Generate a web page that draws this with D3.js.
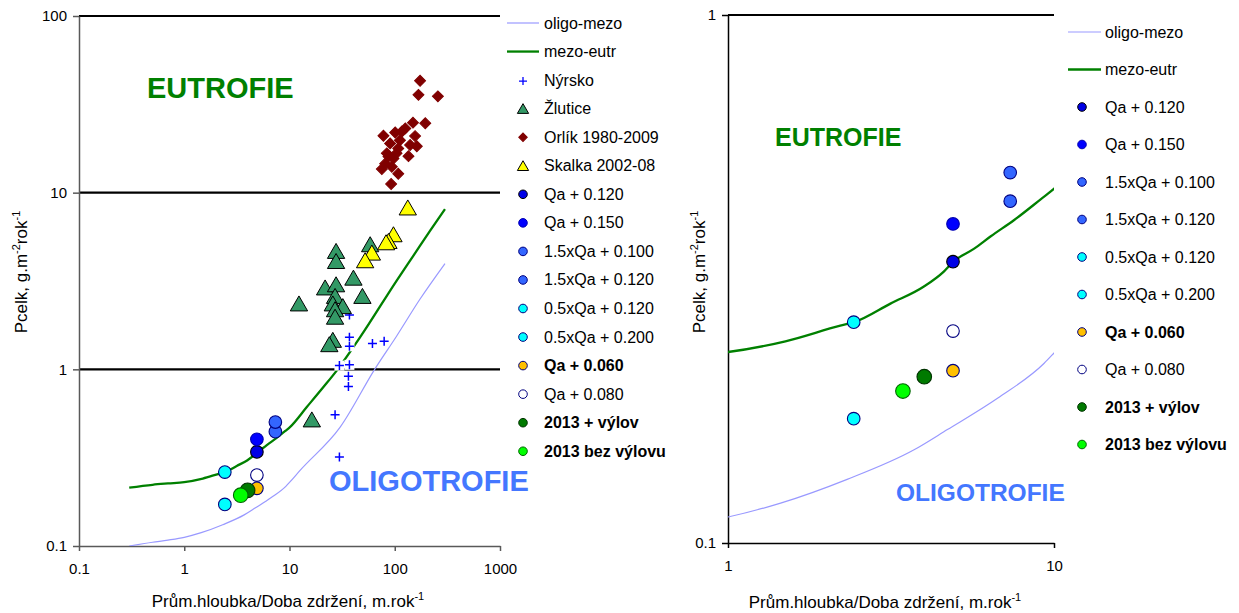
<!DOCTYPE html>
<html>
<head>
<meta charset="utf-8">
<script src="https://cdn.jsdelivr.net/npm/d3@7"></script>
<style>
  body { margin: 0; background: #fff; }
  svg { display: block; }
  text { font-family: "Liberation Sans", Arial, sans-serif; }
</style>
</head>
<body>
<svg id="chart" width="1239" height="613"></svg>
<script>
// Trophic boundary curves: areal P load (g/m2/yr) vs hydraulic load qs (m/yr)
const oligoMezoX = [0.3, 0.5, 0.7, 1, 1.45, 2.32, 3.71, 4.71, 6.71, 9.33, 10, 12.6, 30.3, 65.1, 104.7, 174, 300];
const oligoMezoY = [0.100, 0.105, 0.108, 0.112, 0.119, 0.132, 0.150, 0.164, 0.188, 0.219, 0.229, 0.268, 0.471, 1.01, 1.55, 2.5, 3.97];
const mezoEutrX = [0.3, 0.5, 0.7, 1, 1.5, 2.21, 2.44, 3.15, 3.99, 4.6, 4.91, 5.69, 6.4, 7.55, 9.12, 10.1, 14.6, 21, 28.2, 46.9, 104.7, 150, 217, 300];
const mezoEutrY = [0.214, 0.222, 0.226, 0.230, 0.241, 0.258, 0.262, 0.284, 0.306, 0.327, 0.341, 0.361, 0.381, 0.409, 0.448, 0.471, 0.612, 0.794, 0.987, 1.52, 3.19, 4.39, 6.1, 8.07];

// Reservoir observations
const nyrskoX = [37.1, 37.1, 37.1, 61.4, 79.3, 37.1, 29.8, 36.3, 36.3, 27.1, 29.8];
const nyrskoY = [2.03, 1.52, 1.35, 1.40, 1.44, 1.06, 1.05, 0.913, 0.80, 0.554, 0.319];
const zluticeX = [58.4, 27.7, 27.7, 40.5, 21.8, 27.7, 49.3, 27.1, 12.3, 25.8, 32.1, 27.1, 27.1, 25.8, 23.9, 16.3];
const zluticeY = [5.04, 4.62, 4.05, 3.26, 2.87, 2.99, 2.57, 2.57, 2.33, 2.33, 2.25, 2.16, 1.96, 1.45, 1.37, 0.514];
const orlikX = [174, 168, 257, 149, 195, 78.1, 101, 126, 156, 112, 90.4, 140, 162, 108, 84.1, 135, 97.2, 81.1, 75.4, 108, 93.8, 92.4, 117, 104, 87.2];
const orlikY = [43.0, 35.8, 35.1, 24.9, 24.7, 21.0, 21.9, 23.1, 20.9, 19.8, 19.0, 18.6, 18.3, 17.8, 16.7, 16.1, 15.6, 14.6, 13.6, 12.8, 14.0, 11.2, 22.2, 16.7, 16.0];
const skalkaX = [133, 97.2, 87.1, 82.7, 60.6, 52.3];
const skalkaY = [8.14, 5.74, 5.26, 5.17, 4.52, 4.09];

// Model scenarios (one point each)
const scenarioNames = ["Qa + 0.120", "Qa + 0.150", "1.5xQa + 0.100", "1.5xQa + 0.120", "0.5xQa + 0.120", "0.5xQa + 0.200", "Qa + 0.060", "Qa + 0.080", "2013 + výlov", "2013 bez výlovu"];
const scenarioX = [4.90, 4.90, 7.34, 7.34, 2.43, 2.43, 4.90, 4.90, 4.00, 3.44];
const scenarioY = [0.341, 0.402, 0.444, 0.503, 0.172, 0.262, 0.212, 0.252, 0.2065, 0.194];
const scenarioFill = ["#0000e6", "#0000ff", "#3366ff", "#3366ff", "#00ffff", "#00ffff", "#ffc000", "#ffffff", "#007a00", "#00ff00"];
const scenarioStroke = ["#000000", "#0000b0", "#000080", "#000080", "#000080", "#000080", "#000080", "#000080", "#003300", "#006600"];
const scenarioBold = [false, false, false, false, false, false, true, false, true, true];
const scenarioBig = [false, false, false, false, false, false, false, false, true, true];

const leftXTicks = [0.1, 1, 10, 100, 1000];
const leftYTicks = [0.1, 1, 10, 100];
const rightXTicks = [1, 10];
const rightYTicks = [0.1, 1];

const OLIGO_COLOR = "#9999ff";
const EUTR_COLOR = "#008000";

const svg = d3.select("#chart");
const zip = (xs, ys) => xs.map((x, i) => ({ x, y: ys[i] }));

function yTitle(g, x, y) {
  const t = g.append("text")
    .attr("transform", `translate(${x},${y}) rotate(-90)`)
    .attr("text-anchor", "middle")
    .attr("font-size", 17)
    .attr("fill", "#000");
  t.append("tspan").text("Pcelk, g.m");
  t.append("tspan").attr("font-size", 11).attr("dy", -7).text("-2");
  t.append("tspan").attr("dy", 7).text("rok");
  t.append("tspan").attr("font-size", 11).attr("dy", -7).text("-1");
}
function xTitle(g, x, y) {
  const t = g.append("text")
    .attr("x", x).attr("y", y)
    .attr("text-anchor", "middle")
    .attr("font-size", 17)
    .attr("fill", "#000");
  t.append("tspan").text("Prům.hloubka/Doba zdržení, m.rok");
  t.append("tspan").attr("font-size", 11).attr("dy", -7).text("-1");
}

function drawAxes(g, x, y, xTicks, yTicks, axisColor) {
  const [x0] = x.range();
  const [y0] = y.range();
  const fmt = d => String(d);
  const ax = g.append("g").attr("transform", `translate(0,${y0})`)
    .call(d3.axisBottom(x).tickValues(xTicks).tickFormat(fmt).tickSizeInner(5).tickSizeOuter(0).tickPadding(12));
  const ay = g.append("g").attr("transform", `translate(${x0},0)`)
    .call(d3.axisLeft(y).tickValues(yTicks).tickFormat(fmt).tickSizeInner(6).tickSizeOuter(0).tickPadding(6));
  [ax, ay].forEach(a => {
    a.select(".domain").attr("stroke", axisColor).attr("stroke-width", 1.5);
    a.selectAll(".tick line").attr("stroke", axisColor).attr("stroke-width", 1.5);
    a.selectAll(".tick text").attr("font-size", 15).attr("fill", "#000")
      .attr("font-family", "'Liberation Sans', Arial, sans-serif");
  });
}

function drawCurves(g, x, y, clipId) {
  const line = d3.line().x(d => x(d.x)).y(d => y(d.y)).curve(d3.curveMonotoneX);
  const cg = g.append("g").attr("clip-path", `url(#${clipId})`);
  cg.append("path").datum(zip(oligoMezoX, oligoMezoY))
    .attr("d", line).attr("fill", "none").attr("stroke", OLIGO_COLOR).attr("stroke-width", 1.2);
  cg.append("path").datum(zip(mezoEutrX, mezoEutrY))
    .attr("d", line).attr("fill", "none").attr("stroke", EUTR_COLOR).attr("stroke-width", 2.3);
}

function drawScenarios(g, x, y) {
  const pts = scenarioNames.map((n, i) => ({ x: scenarioX[i], y: scenarioY[i], i }));
  g.selectAll("circle.sc").data(pts).join("circle")
    .attr("class", "sc")
    .attr("cx", d => x(d.x)).attr("cy", d => y(d.y))
    .attr("r", d => scenarioBig[d.i] ? 7.3 : 6.3)
    .attr("fill", d => scenarioFill[d.i])
    .attr("stroke", d => scenarioStroke[d.i])
    .attr("stroke-width", 1.1);
}

const tri = d3.symbol().type(d3.symbolTriangle);
const square = d3.symbol().type(d3.symbolSquare);

// ---------------- Left chart ----------------
const L = svg.append("g");
const lx = d3.scaleLog().domain([0.1, 1000]).range([79, 500]);
const ly = d3.scaleLog().domain([0.1, 100]).range([546, 16]);

const defs = svg.append("defs");
defs.append("clipPath").attr("id", "clipL")
  .append("rect").attr("x", 79).attr("y", 16).attr("width", 421).attr("height", 530);
defs.append("clipPath").attr("id", "clipR")
  .append("rect").attr("x", 728).attr("y", 15).attr("width", 326).attr("height", 528);

// major horizontal gridlines
L.selectAll("line.grid").data([1, 10, 100]).join("line")
  .attr("class", "grid")
  .attr("x1", lx(0.1)).attr("x2", lx(1000))
  .attr("y1", d => ly(d)).attr("y2", d => ly(d))
  .attr("stroke", "#000").attr("stroke-width", 2.2);

drawAxes(L, lx, ly, leftXTicks, leftYTicks, "#595959");
drawCurves(L, lx, ly, "clipL");

// Nýrsko: plus markers on a white square background
const ny = L.append("g");
zip(nyrskoX, nyrskoY).forEach(d => {
  const cx = lx(d.x), cy = ly(d.y);
  ny.append("rect").attr("x", cx - 5).attr("y", cy - 5).attr("width", 10).attr("height", 10).attr("fill", "#fff");
  ny.append("path").attr("d", `M${cx - 4.5},${cy}H${cx + 4.5}M${cx},${cy - 4.5}V${cy + 4.5}`)
    .attr("stroke", "#0000ff").attr("stroke-width", 1.5);
});

L.append("g").selectAll("path").data(zip(zluticeX, zluticeY)).join("path")
  .attr("d", tri.size(130)())
  .attr("transform", d => `translate(${lx(d.x)},${ly(d.y) + 1.5})`)
  .attr("fill", "#339966").attr("stroke", "#000").attr("stroke-width", 1);

L.append("g").selectAll("path").data(zip(orlikX, orlikY)).join("path")
  .attr("d", square.size(60)())
  .attr("transform", d => `translate(${lx(d.x)},${ly(d.y)}) rotate(45)`)
  .attr("fill", "#800000").attr("stroke", "#800000").attr("stroke-width", 1);

L.append("g").selectAll("path").data(zip(skalkaX, skalkaY)).join("path")
  .attr("d", tri.size(130)())
  .attr("transform", d => `translate(${lx(d.x)},${ly(d.y) + 1.5})`)
  .attr("fill", "#ffff00").attr("stroke", "#000").attr("stroke-width", 1);

drawScenarios(L, lx, ly);

L.append("text").attr("x", 147).attr("y", 98).attr("font-size", 29).attr("font-weight", "bold")
  .attr("fill", "#008000").text("EUTROFIE");
L.append("text").attr("x", 329).attr("y", 491).attr("font-size", 29).attr("font-weight", "bold")
  .attr("fill", "#4477ff").text("OLIGOTROFIE");

yTitle(L, 27, 272);
xTitle(L, 288, 607);

// Left legend
const leftLegend = [
  { label: "oligo-mezo", kind: "line", color: OLIGO_COLOR, w: 1.2 },
  { label: "mezo-eutr", kind: "line", color: EUTR_COLOR, w: 2.3 },
  { label: "Nýrsko", kind: "plus" },
  { label: "Žlutice", kind: "tri", fill: "#339966" },
  { label: "Orlík 1980-2009", kind: "diamond" },
  { label: "Skalka 2002-08", kind: "tri", fill: "#ffff00" }
].concat(scenarioNames.map((n, i) => ({ label: n, kind: "dot", i })));

function drawLegend(g, items, y0, step, lineX0, lineX1, markX, textX) {
  items.forEach((it, k) => {
    const cy = y0 + k * step;
    if (it.kind === "line") {
      g.append("line").attr("x1", lineX0).attr("x2", lineX1).attr("y1", cy).attr("y2", cy)
        .attr("stroke", it.color).attr("stroke-width", it.w);
    } else if (it.kind === "plus") {
      g.append("path").attr("d", `M${markX - 4},${cy + 1}H${markX + 4}M${markX},${cy - 3}V${cy + 5}`)
        .attr("stroke", "#0000ff").attr("stroke-width", 1.3);
    } else if (it.kind === "tri") {
      g.append("path").attr("d", tri.size(55)()).attr("transform", `translate(${markX},${cy + 1.5})`)
        .attr("fill", it.fill).attr("stroke", "#000").attr("stroke-width", 1);
    } else if (it.kind === "diamond") {
      g.append("path").attr("d", square.size(36)()).attr("transform", `translate(${markX},${cy}) rotate(45)`)
        .attr("fill", "#800000").attr("stroke", "#800000");
    } else {
      g.append("circle").attr("cx", markX).attr("cy", cy).attr("r", 4.3)
        .attr("fill", scenarioFill[it.i]).attr("stroke", scenarioStroke[it.i]).attr("stroke-width", 1);
    }
    g.append("text").attr("x", textX).attr("y", cy + 5.5).attr("font-size", 16)
      .attr("font-weight", it.kind === "dot" && scenarioBold[it.i] ? "bold" : "normal")
      .attr("fill", "#000").text(it.label);
  });
}
drawLegend(svg.append("g"), leftLegend, 23, 28.55, 507, 539, 523, 544);

// ---------------- Right chart (detail) ----------------
const R = svg.append("g");
const rx = d3.scaleLog().domain([1, 10]).range([728, 1054]);
const ry = d3.scaleLog().domain([0.1, 1]).range([543, 15]);

R.append("line").attr("x1", rx(1)).attr("x2", rx(10)).attr("y1", ry(1)).attr("y2", ry(1))
  .attr("stroke", "#000").attr("stroke-width", 2.2);
drawAxes(R, rx, ry, rightXTicks, rightYTicks, "#000");
drawCurves(R, rx, ry, "clipR");
drawScenarios(R, rx, ry);

R.append("text").attr("x", 775).attr("y", 146).attr("font-size", 25).attr("font-weight", "bold")
  .attr("fill", "#008000").text("EUTROFIE");
R.append("text").attr("x", 896).attr("y", 501).attr("font-size", 24.5).attr("font-weight", "bold")
  .attr("fill", "#4477ff").text("OLIGOTROFIE");

yTitle(R, 705, 272);
xTitle(R, 885, 608);

const rightLegend = [
  { label: "oligo-mezo", kind: "line", color: OLIGO_COLOR, w: 1.2 },
  { label: "mezo-eutr", kind: "line", color: EUTR_COLOR, w: 2.3 }
].concat(scenarioNames.map((n, i) => ({ label: n, kind: "dot", i })));
drawLegend(svg.append("g"), rightLegend, 32, 37.5, 1068, 1101, 1082, 1105);
</script>
</body>
</html>
